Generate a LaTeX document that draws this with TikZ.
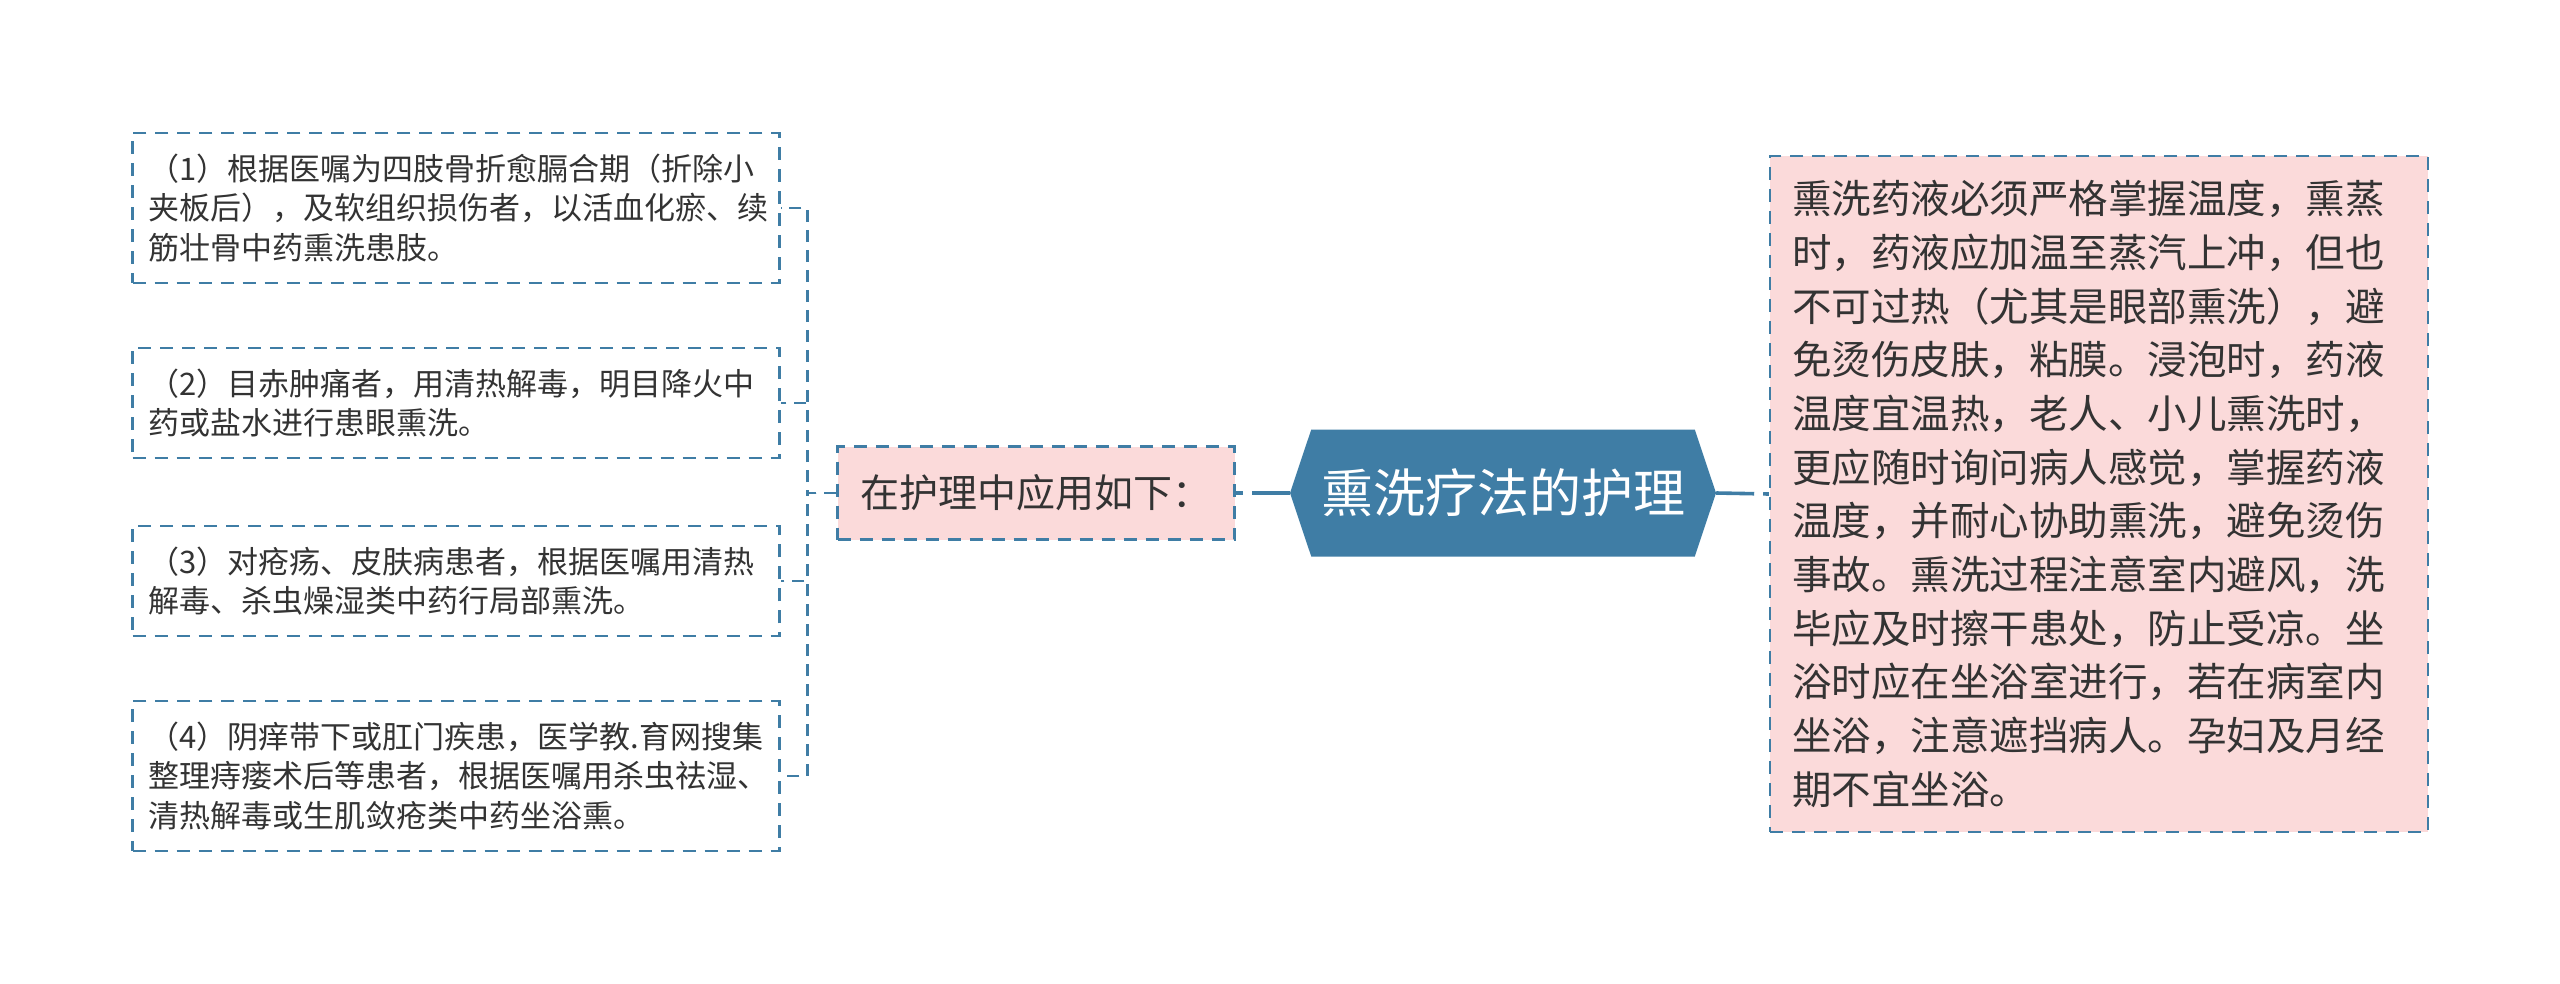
\documentclass[tikz,border=0pt]{standalone}
\usepackage{fontspec}
\setmainfont{Noto Sans CJK SC}
\usetikzlibrary{shapes.symbols}
\definecolor{hexblue}{HTML}{3F7DA5}
\definecolor{notepink}{HTML}{FBDADA}
\definecolor{inkgray}{HTML}{333333}

\begin{document}
\begin{tikzpicture}[x=1pt,y=-1pt,
    root/.style = {shape=signal, signal to=west and east, signal pointer angle=143,
      fill=hexblue, text=white, font=\fontsize{52}{60}\selectfont,
      inner xsep=8pt, inner ysep=0pt, minimum width=426pt, minimum height=127pt},
    apply/.style = {draw=hexblue, fill=notepink, line width=2.2pt, dash pattern=on 13pt off 9pt,
      text=inkgray, font=\fontsize{39}{50}\selectfont,
      minimum width=397pt, minimum height=93pt},
    note/.style = {draw=hexblue, fill=notepink, line width=2.2pt, dash pattern=on 13pt off 9pt,
      text=inkgray, font=\fontsize{39.5}{53.7}\selectfont, align=left,
      text width=614pt, inner xsep=22pt, inner ysep=24pt},
    item/.style = {draw=hexblue, line width=2.2pt, dash pattern=on 13pt off 9pt,
      text=inkgray, font=\fontsize{31}{39.3}\selectfont, align=left,
      text width=615pt, inner xsep=16pt, inner ysep=21pt},
    link/.style = {draw=hexblue, line width=3.6pt, dash pattern=on 38pt off 9pt},
    elbow/.style = {draw=hexblue, line width=2.2pt, dash pattern=on 12pt off 8pt}]
  \useasboundingbox (0,0) rectangle (2560,983);

  \node[root](root) at (1503,493) {熏洗疗法的护理};
  \node[apply](apply) at (1036,493) {在护理中应用如下：};
  \node[note](note) at (2099,494) {熏洗药液必须严格掌握温度，熏蒸\\时，药液应加温至蒸汽上冲，但也\\不可过热（尤其是眼部熏洗），避\\免烫伤皮肤，粘膜。浸泡时，药液\\温度宜温热，老人、小儿熏洗时，\\更应随时询问病人感觉，掌握药液\\温度，并耐心协助熏洗，避免烫伤\\事故。熏洗过程注意室内避风，洗\\毕应及时擦干患处，防止受凉。坐\\浴时应在坐浴室进行，若在病室内\\坐浴，注意遮挡病人。孕妇及月经\\期不宜坐浴。};

  \node[item](p1) at (456,208) {（1）根据医嘱为四肢骨折愈膈合期（折除小\\夹板后），及软组织损伤者，以活血化瘀、续\\筋壮骨中药熏洗患肢。};
  \node[item](p2) at (456,403) {（2）目赤肿痛者，用清热解毒，明目降火中\\药或盐水进行患眼熏洗。};
  \node[item](p3) at (456,581) {（3）对疮疡、皮肤病患者，根据医嘱用清热\\解毒、杀虫燥湿类中药行局部熏洗。};
  \node[item](p4) at (456,776) {（4）阴痒带下或肛门疾患，医学教.育网搜集\\整理痔瘘术后等患者，根据医嘱用杀虫祛湿、\\清热解毒或生肌敛疮类中药坐浴熏。};

  \coordinate (fork) at ([xshift=-29pt]apply.west);

  \path
  (root.west) edge[link] (apply.east)
  (root.east) edge[link] (note.west)
  ;
  \foreach \p in {p1,p2,p3,p4}
    \draw[elbow] (apply.west) -- (fork) |- (\p.east);
\end{tikzpicture}
\end{document}
